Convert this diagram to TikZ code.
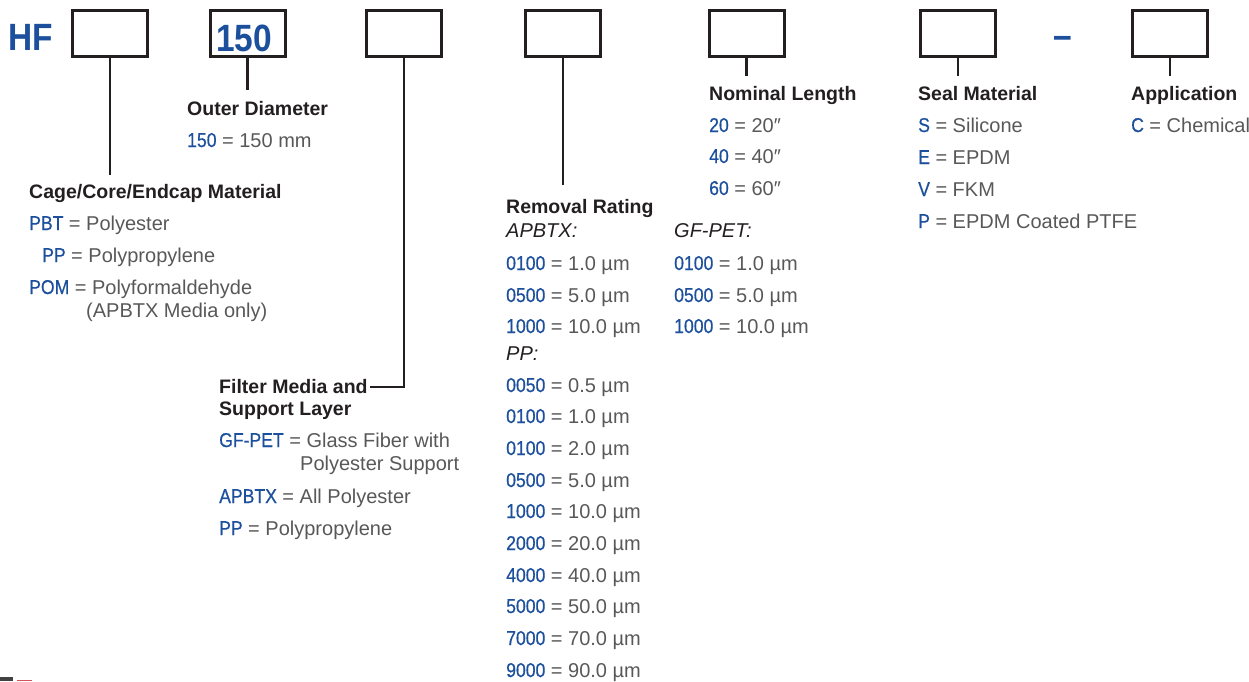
\documentclass[tikz,border=0pt]{standalone}
\usepackage{fontspec}
\setmainfont{Liberation Sans}
\newfontfamily\condfont[FakeStretch=0.88]{Liberation Sans}
\newfontfamily\codefont[FakeStretch=0.88,FakeBold=0.6]{Liberation Sans}
\definecolor{codeblue}{RGB}{28,79,156}
\definecolor{descgray}{RGB}{88,88,88}
\definecolor{labeldark}{RGB}{35,31,32}
\definecolor{logored}{RGB}{214,82,90}
\newcommand{\cd}[1]{{\codefont\color{codeblue}#1}}
\newcommand{\entrysize}{\fontsize{20}{24}\selectfont}

\begin{document}
\begin{tikzpicture}[
    x=1pt, y=-1pt,
    codebox/.style={
        draw=labeldark, line width=3pt,
        minimum width=75pt, minimum height=46pt, inner sep=0pt
    },
    stem/.style={draw=labeldark, line width=2.6pt},
    head/.style={anchor=base west, inner sep=0pt, text=labeldark,
        font=\fontsize{19.5}{23}\selectfont\bfseries},
    entry/.style={anchor=base west, inner sep=0pt, text=descgray, font=\entrysize},
    subhead/.style={anchor=base west, inner sep=0pt, text=labeldark,
        font=\entrysize\itshape},
    bigcode/.style={anchor=base west, inner sep=0pt, text=codeblue,
        font=\fontsize{38}{40}\selectfont\condfont\bfseries}
]
\useasboundingbox (0,0) rectangle (1249,681);

% code boxes
\node[bigcode] (hf) at (8,50) {HF};
\node[codebox] (bcage)   at (110,33.5)   {};
\node[codebox] (bod)     at (247.5,33.5) {};
\node[bigcode] (odcode)  at (216,51)     {150};
\node[codebox] (bmedia)  at (404,33.5)   {};
\node[codebox] (brating) at (563,33.5)   {};
\node[codebox] (blength) at (746.5,33.5) {};
\node[codebox] (bseal)   at (958,33.5)   {};
\node[bigcode] (dash)    at (1053,48)    {–};
\node[codebox] (bapp)    at (1170,33.5)  {};

% stem ends
\coordinate (cageend)   at (110,175);
\coordinate (odend)     at (247.5,90);
\coordinate (mediaend)  at (370,387);
\coordinate (ratingend) at (563,185);
\coordinate (lengthend) at (746.5,76);
\coordinate (sealend)   at (958,76);
\coordinate (append)    at (1170,76);

\draw[stem] (bcage.south)   -- (cageend);
\draw[stem] (bod.south)     -- (odend);
\draw[stem] (bmedia.south)  |- (mediaend);
\draw[stem] (brating.south) -- (ratingend);
\draw[stem] (blength.south) -- (lengthend);
\draw[stem] (bseal.south)   -- (sealend);
\draw[stem] (bapp.south)    -- (append);

% cage / core / endcap
\node[head]  (cage)   at (29,198) {Cage/Core/Endcap Material};
\node[entry] (cage1)  at (29,230) {\cd{PBT} = Polyester};
\node[entry] (cage2)  at (42,262) {\cd{PP} = Polypropylene};
\node[entry] (cage3)  at (29,294) {\cd{POM} = Polyformaldehyde};
\node[entry] (cage3b) at (86,317) {(APBTX Media only)};

% outer diameter
\node[head]  (od)  at (187,115) {Outer Diameter};
\node[entry] (od1) at (187,147) {\cd{150} = 150 mm};

% filter media
\node[head]  (media)   at (219,393) {Filter Media and};
\node[head]  (mediab)  at (219,415) {Support Layer};
\node[entry] (media1)  at (219,447) {\cd{GF-PET} = Glass Fiber with};
\node[entry] (media1b) at (300,470) {Polyester Support};
\node[entry] (media2)  at (219,503) {\cd{APBTX} = All Polyester};
\node[entry] (media3)  at (219,535) {\cd{PP} = Polypropylene};

% removal rating
\node[head]    (rating) at (506,213) {Removal Rating};
\node[subhead] (apbtx)  at (506,237) {APBTX:};
\node[entry]   (ap1)    at (506,270) {\cd{0100} = 1.0 µm};
\node[entry]   (ap2)    at (506,302) {\cd{0500} = 5.0 µm};
\node[entry]   (ap3)    at (506,333) {\cd{1000} = 10.0 µm};
\node[subhead] (pp)     at (506,360) {PP:};
\node[entry]   (pp1)    at (506,392) {\cd{0050} = 0.5 µm};
\node[entry]   (pp2)    at (506,423) {\cd{0100} = 1.0 µm};
\node[entry]   (pp3)    at (506,455) {\cd{0100} = 2.0 µm};
\node[entry]   (pp4)    at (506,487) {\cd{0500} = 5.0 µm};
\node[entry]   (pp5)    at (506,518) {\cd{1000} = 10.0 µm};
\node[entry]   (pp6)    at (506,550) {\cd{2000} = 20.0 µm};
\node[entry]   (pp7)    at (506,582) {\cd{4000} = 40.0 µm};
\node[entry]   (pp8)    at (506,613) {\cd{5000} = 50.0 µm};
\node[entry]   (pp9)    at (506,645) {\cd{7000} = 70.0 µm};
\node[entry]   (pp10)   at (506,677) {\cd{9000} = 90.0 µm};

% nominal length
\node[head]    (length) at (709,100) {Nominal Length};
\node[entry]   (len1)   at (709,132) {\cd{20} = 20″};
\node[entry]   (len2)   at (709,163) {\cd{40} = 40″};
\node[entry]   (len3)   at (709,195) {\cd{60} = 60″};
\node[subhead] (gfpet)  at (674,237) {GF-PET:};
\node[entry]   (gf1)    at (674,270) {\cd{0100} = 1.0 µm};
\node[entry]   (gf2)    at (674,302) {\cd{0500} = 5.0 µm};
\node[entry]   (gf3)    at (674,333) {\cd{1000} = 10.0 µm};

% seal material
\node[head]  (seal)  at (918,100) {Seal Material};
\node[entry] (seal1) at (918,132) {\cd{S} = Silicone};
\node[entry] (seal2) at (918,164) {\cd{E} = EPDM};
\node[entry] (seal3) at (918,196) {\cd{V} = FKM};
\node[entry] (seal4) at (918,228) {\cd{P} = EPDM Coated PTFE};

% application
\node[head]  (app)  at (1131,100) {Application};
\node[entry] (app1) at (1131,132) {\cd{C} = Chemical};

% cut-off logo at the bottom edge
\fill[labeldark!85] (0,677) rectangle (13,681);
\fill[logored] (17,680) rectangle (32,681);
\end{tikzpicture}
\end{document}
